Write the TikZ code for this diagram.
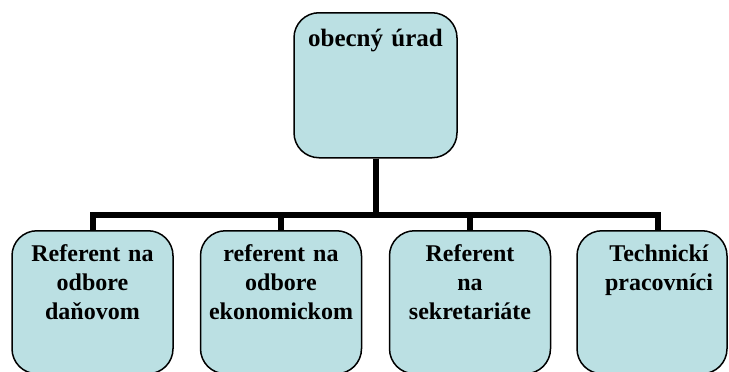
\documentclass[tikz,border=0pt]{standalone}
\usepackage{fontspec}
\setmainfont{Liberation Serif}
\usepackage{tikz}
\definecolor{boxblue}{RGB}{187,224,227}
\tikzset{office node/.style={draw,fill=boxblue,rounded corners=25pt,line width=1.5pt,
		anchor=north,inner sep=0pt,align=center,
		font=\fontsize{24}{29}\selectfont\bfseries},
}

\begin{document}
\begin{tikzpicture}[x=1pt,y=-1pt,thick,
	unit node/.style={office node,text width=161pt,text height=31pt,text depth=112pt},
	link/.style={line width=6pt}]
	\useasboundingbox (0,0) rectangle (729,372);
	
	\node[office node,font=\fontsize{25}{29}\selectfont\bfseries,text width=163pt,text height=34pt,text depth=111pt] (urad) at (375.5,12) {obecný úrad};
	
	\node[unit node] (dan) at (92.5,230) {Referent na\\odbore\\daňovom};
	\node[unit node] (eko) at (281,230) {referent na\\odbore\\ekonomickom};
	\node[unit node] (sek) at (470,230) {Referent\\na\\sekretariáte};
	\node[unit node,text width=150pt] (tech) at (652,230) {\hspace*{14pt}Technickí\\\hspace*{14pt}pracovníci};
	
	\coordinate (bar) at (0,215);
	
	\draw[link] (urad.south) -- (urad.south |- bar) -| (dan.north);
	\draw[link] (urad.south) -- (urad.south |- bar) -| (eko.north);
	\draw[link] (urad.south) -- (urad.south |- bar) -| (sek.north);
	\draw[link] (urad.south) -- (urad.south |- bar) -| ([xshift=6pt]tech.north);
\end{tikzpicture}
\end{document}
